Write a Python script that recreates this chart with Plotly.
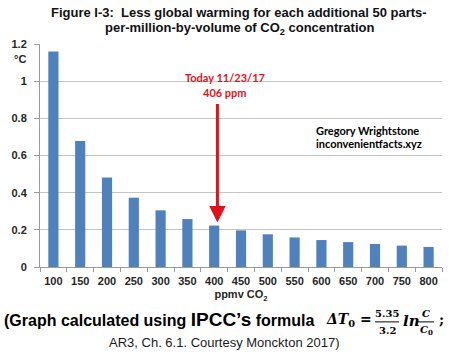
import plotly.graph_objects as go

# ---- data ----
ppmv_labels = ["100", "150", "200", "250", "300", "350", "400", "450",
               "500", "550", "600", "650", "700", "750", "800"]
warming_c = [1.16, 0.678, 0.481, 0.373, 0.305, 0.258, 0.223, 0.197,
             0.176, 0.159, 0.145, 0.134, 0.124, 0.115, 0.108]
y_ticks = [0, 0.2, 0.4, 0.6, 0.8, 1, 1.2]
today_ppm = 406
arrow_top_c = 0.885
arrow_tip_c = 0.24

BLUE = "#4F81BD"
RED = "#E3121A"
SANS = "Liberation Sans, Arial, sans-serif"
CAL = "Lato, Carlito, Calibri, sans-serif"
SERIF = "DejaVu Serif, Cambria, serif"

W, H = 459, 359
L, R, T, B = 40, 17, 43.5, 92

# position of 406 ppm on the category axis (index space)
today_idx = (today_ppm - int(ppmv_labels[0])) / 50.0

fig = go.Figure()
fig.add_trace(go.Bar(
    x=ppmv_labels, y=warming_c, width=0.38,
    marker=dict(color=BLUE, line=dict(width=0)),
    showlegend=False, hoverinfo="skip",
))

fig.update_layout(
    width=W, height=H,
    margin=dict(l=L, r=R, t=T, b=B, autoexpand=False),
    paper_bgcolor="white", plot_bgcolor="white",
    font=dict(family=SANS, color="#262626"),
    xaxis=dict(
        type="category",
        tickmode="array", tickvals=ppmv_labels,
        ticktext=["<b>%s</b>" % t for t in ppmv_labels],
        tickangle=0, ticklabelstandoff=4,
        tickson="boundaries", ticks="outside", ticklen=4, tickcolor="#9a9a9a",
        showline=True, linecolor="#9a9a9a", linewidth=1,
        showgrid=False,
        tickfont=dict(family=SANS, size=11, color="#262626"),
        title=dict(text="<b>ppmv CO<sub>2</sub></b>", standoff=4,
                   font=dict(family=SANS, size=11, color="#262626")),
    ),
    yaxis=dict(
        range=[0, 1.2], tickmode="array", tickvals=y_ticks,
        ticktext=["<b>%g</b>" % v for v in y_ticks],
        ticks="outside", ticklen=5, tickcolor="#9a9a9a",
        ticklabelstandoff=5,
        showline=True, linecolor="#9a9a9a", linewidth=1,
        showgrid=True, gridcolor="#c4c4c4", gridwidth=1,
        zeroline=False,
        tickfont=dict(family=SANS, size=11, color="#262626"),
    ),
    bargap=0.6,
)


def px_x(p):
    return (p - L) / (W - L - R)


def px_y(p):
    return (H - B - p) / (H - B - T)


# title, two lines
fig.add_annotation(xref="paper", yref="paper", x=px_x(239), y=px_y(12),
                   xanchor="center", yanchor="middle", showarrow=False,
                   text="<b>Figure I-3:  Less global warming for each additional 50 parts-</b>",
                   font=dict(family=SANS, size=13, color="#111111"))
fig.add_annotation(xref="paper", yref="paper", x=px_x(239), y=px_y(28),
                   xanchor="center", yanchor="middle", showarrow=False,
                   text="<b>per-million-by-volume of CO<sub>2</sub> concentration</b>",
                   font=dict(family=SANS, size=13, color="#111111"))

# °C unit label
fig.add_annotation(text="<b>°C</b>", xref="paper", x=px_x(20), xanchor="center",
                   yref="paper", y=px_y(59), yanchor="middle", showarrow=False,
                   font=dict(family=SANS, size=11, color="#262626"))

# red arrow
fig.add_annotation(x=today_idx, y=arrow_tip_c, ax=today_idx, ay=arrow_top_c,
                   xref="x", yref="y", axref="x", ayref="y", text="",
                   showarrow=True, arrowhead=2, arrowsize=1.1, arrowwidth=3,
                   arrowcolor=RED, standoff=0)
fig.add_annotation(x=px_x(225), xref="paper", y=px_y(77), yref="paper",
                   text="<b>Today 11/23/17</b>", showarrow=False,
                   xanchor="center", yanchor="middle",
                   font=dict(family=CAL, size=11, color=RED))
fig.add_annotation(x=px_x(225), xref="paper", y=px_y(92), yref="paper",
                   text="<b>406 ppm</b>", showarrow=False,
                   xanchor="center", yanchor="middle",
                   font=dict(family=CAL, size=11, color=RED))

# author annotation
fig.add_annotation(x=px_x(314), xref="paper", xanchor="left",
                   y=px_y(130), yref="paper", yanchor="middle",
                   text="<b>Gregory Wrightstone</b>",
                   showarrow=False, align="left",
                   font=dict(family=CAL, size=11, color="#000000"))
fig.add_annotation(x=px_x(314), xref="paper", xanchor="left",
                   y=px_y(143), yref="paper", yanchor="middle",
                   text="<b>inconvenientfacts.xyz</b>",
                   showarrow=False, align="left",
                   font=dict(family=CAL, size=11, color="#000000"))

# bottom formula line
fig.add_annotation(xref="paper", yref="paper", x=px_x(2), y=px_y(320),
                   xanchor="left", yanchor="middle", showarrow=False,
                   text="<b>(Graph calculated using <span style='font-size:19px'>IPCC’s</span> formula</b>",
                   font=dict(family=SANS, size=16, color="#000000"))
fig.add_annotation(xref="paper", yref="paper", x=px_x(324), y=px_y(320),
                   xanchor="left", yanchor="middle", showarrow=False,
                   text="<b><i>ΔT</i><sub>0</sub> =</b>",
                   font=dict(family=SERIF, size=14, color="#000000"))
fig.add_annotation(xref="paper", yref="paper", x=px_x(387), y=px_y(314),
                   xanchor="center", yanchor="middle", showarrow=False,
                   text="<b>5.35</b>",
                   font=dict(family=SERIF, size=10, color="#000000"))
fig.add_annotation(xref="paper", yref="paper", x=px_x(387), y=px_y(331),
                   xanchor="center", yanchor="middle", showarrow=False,
                   text="<b>3.2</b>",
                   font=dict(family=SERIF, size=10, color="#000000"))
fig.add_shape(type="line", xref="paper", yref="paper",
              x0=px_x(375), x1=px_x(399), y0=px_y(322), y1=px_y(322),
              line=dict(color="#000000", width=1))
fig.add_annotation(xref="paper", yref="paper", x=px_x(401), y=px_y(321),
                   xanchor="left", yanchor="middle", showarrow=False,
                   text="<b><i>ln</i></b>",
                   font=dict(family=SERIF, size=15, color="#000000"))
fig.add_annotation(xref="paper", yref="paper", x=px_x(426), y=px_y(314),
                   xanchor="center", yanchor="middle", showarrow=False,
                   text="<b><i>C</i></b>",
                   font=dict(family=SERIF, size=10, color="#000000"))
fig.add_annotation(xref="paper", yref="paper", x=px_x(426), y=px_y(331),
                   xanchor="center", yanchor="middle", showarrow=False,
                   text="<b><i>C</i><sub>0</sub></b>",
                   font=dict(family=SERIF, size=10, color="#000000"))
fig.add_shape(type="line", xref="paper", yref="paper",
              x0=px_x(418), x1=px_x(434), y0=px_y(322), y1=px_y(322),
              line=dict(color="#000000", width=1))
fig.add_annotation(xref="paper", yref="paper", x=px_x(437), y=px_y(320),
                   xanchor="left", yanchor="middle", showarrow=False,
                   text="<b>;</b>",
                   font=dict(family=SERIF, size=14, color="#000000"))
fig.add_annotation(xref="paper", yref="paper", x=px_x(224), y=px_y(343),
                   xanchor="center", yanchor="middle", showarrow=False,
                   text="AR3, Ch. 6.1. Courtesy Monckton 2017)",
                   font=dict(family=SANS, size=13, color="#1a1a1a"))

fig.write_html(
    "out.html",
    config={"displayModeBar": False},
    post_script="document.body.style.margin='0';document.body.style.padding='0';",
)
